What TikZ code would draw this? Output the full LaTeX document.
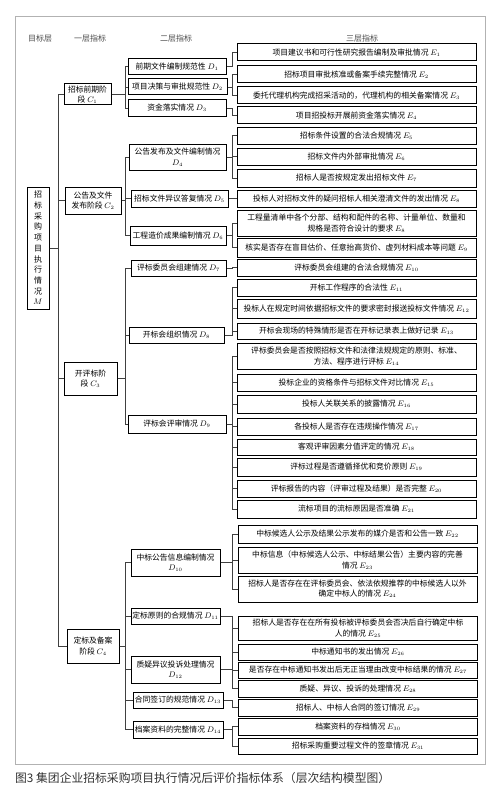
\documentclass[tikz,border=0pt]{standalone}
\usepackage{fontspec}
\setmainfont{Noto Sans CJK SC}
\usetikzlibrary{calc}
\newcommand\bxfont{\fontsize{7.8}{10.4}\selectfont}
\newcommand\hdfont{\fontsize{8}{10}\selectfont}
\newcommand\capfont{\fontsize{11.8}{14}\selectfont}
\begin{document}
\begin{tikzpicture}[x=1pt,y=-1pt,
  bx/.style={draw=black, line width=1pt, inner sep=0pt, align=center, font=\bxfont},
  conn/.style={draw=black!75, line width=0.7pt},
  hd/.style={font=\hdfont, text=black!70, inner sep=0pt}]
\useasboundingbox (0,0) rectangle (500,797);
\draw[black!30, line width=1pt] (15,17) rectangle (485,764);
% headers
\node[hd] (h0) at (40,38) {目标层};
\node[hd] (h1) at (90,38) {一层指标};
\node[hd] (h2) at (176,38) {二层指标};
\node[hd] (h3) at (362,38) {三层指标};
% bus coordinates
\coordinate (bm) at (58,0);
\coordinate (bc) at (125,0);
\coordinate (be) at (232,0);
% M
\node[bx, minimum width=22pt, minimum height=122pt, font=\fontsize{8}{10.7}\selectfont] (m) at (38,248) {招\\标\\采\\购\\项\\目\\执\\行\\情\\况\\$M$};
% C
\node[bx, minimum width=47pt, minimum height=21pt] (c1) at (87.5,94.5) {招标前期阶\\段 $C_{1}$};
\node[bx, minimum width=56pt, minimum height=27pt] (c2) at (93,200.5) {公告及文件\\发布阶段 $C_{2}$};
\node[bx, minimum width=53pt, minimum height=33pt] (c3) at (90.5,378.5) {开评标阶\\段 $C_{3}$};
\node[bx, minimum width=52pt, minimum height=34pt] (c4) at (93,646) {定标及备案\\阶段 $C_{4}$};
% D
\node[bx, minimum width=98pt, minimum height=16pt] (d1) at (177,66.5) {前期文件编制规范性 $D_{1}$};
\node[bx, minimum width=99pt, minimum height=16pt] (d2) at (177.5,87) {项目决策与审批规范性 $D_{2}$};
\node[bx, minimum width=98pt, minimum height=17pt] (d3) at (177,108) {资金落实情况 $D_{3}$};
\node[bx, minimum width=97pt, minimum height=26pt] (d4) at (177.5,157) {公告发布及文件编制情况\\$D_{4}$};
\node[bx, minimum width=97pt, minimum height=17pt] (d5) at (179.5,198.5) {招标文件异议答复情况 $D_{5}$};
\node[bx, minimum width=96pt, minimum height=19pt] (d6) at (178,235.5) {工程造价成果编制情况 $D_{6}$};
\node[bx, minimum width=95pt, minimum height=16pt] (d7) at (178.5,268) {评标委员会组建情况 $D_{7}$};
\node[bx, minimum width=95pt, minimum height=16pt] (d8) at (176.5,335) {开标会组织情况 $D_{8}$};
\node[bx, minimum width=98pt, minimum height=18pt] (d9) at (177,424) {评标会评审情况 $D_{9}$};
\node[bx, minimum width=89pt, minimum height=27pt] (d10) at (175.5,562.5) {中标公告信息编制情况\\$D_{10}$};
\node[bx, minimum width=89pt, minimum height=16pt] (d11) at (175.5,616) {定标原则的合规情况 $D_{11}$};
\node[bx, minimum width=89pt, minimum height=27pt] (d12) at (175.5,669.5) {质疑异议投诉处理情况\\$D_{12}$};
\node[bx, minimum width=90pt, minimum height=16pt] (d13) at (178,700) {合同签订的规范情况 $D_{13}$};
\node[bx, minimum width=90pt, minimum height=17pt] (d14) at (178,729.5) {档案资料的完整情况 $D_{14}$};
% E
\tikzset{eb/.style={bx, minimum width=239pt}}
\node[eb, minimum height=17pt] (e1) at (356.5,52.5) {项目建议书和可行性研究报告编制及审批情况 $E_{1}$};
\node[eb, minimum height=17pt] (e2) at (356.5,74.5) {招标项目审批核准或备案手续完整情况 $E_{2}$};
\node[eb, minimum height=17pt] (e3) at (356.5,95.5) {委托代理机构完成招采活动的，代理机构的相关备案情况 $E_{3}$};
\node[eb, minimum height=17pt] (e4) at (356.5,115.5) {项目招投标开展前资金落实情况 $E_{4}$};
\node[eb, minimum height=17pt] (e5) at (356.5,135.5) {招标条件设置的合法合规情况 $E_{5}$};
\node[eb, minimum height=17pt] (e6) at (356.5,156.5) {招标文件内外部审批情况 $E_{6}$};
\node[eb, minimum height=18pt] (e7) at (356.5,178) {招标人是否按规定发出招标文件 $E_{7}$};
\node[eb, minimum height=17pt] (e8) at (356.5,198.5) {投标人对招标文件的疑问招标人相关澄清文件的发出情况 $E_{8}$};
\node[eb, minimum height=26pt] (e9a) at (356.5,223) {工程量清单中各个分部、结构和配件的名称、计量单位、数量和\\规格是否符合设计的要求 $E_{8}$};
\node[eb, minimum height=19pt] (e9b) at (356.5,247.5) {核实是否存在盲目估价、任意抬高货价、虚列材料成本等问题 $E_{9}$};
\node[eb, minimum height=17pt] (e10) at (356.5,267.5) {评标委员会组建的合法合规情况 $E_{10}$};
\node[eb, minimum height=17pt] (e11) at (356.5,287.5) {开标工作程序的合法性 $E_{11}$};
\node[eb, minimum height=19pt] (e12) at (356.5,308.5) {投标人在规定时间依据招标文件的要求密封报送投标文件情况 $E_{12}$};
\node[eb, minimum height=16pt] (e13) at (356.5,331) {开标会现场的特殊情形是否在开标记录表上做好记录 $E_{13}$};
\node[eb, minimum height=26pt] (e14) at (356.5,356) {评标委员会是否按照招标文件和法律法规规定的原则、标准、\\方法、程序进行评标 $E_{14}$};
\node[eb, minimum height=17pt] (e15) at (356.5,382.5) {投标企业的资格条件与招标文件对比情况 $E_{15}$};
\node[eb, minimum height=18pt] (e16) at (356.5,404) {投标人关联关系的披露情况 $E_{16}$};
\node[eb, minimum height=17pt] (e17) at (356.5,426.5) {各投标人是否存在违规操作情况 $E_{17}$};
\node[eb, minimum height=16pt] (e18) at (356.5,447) {客观评审因素分值评定的情况 $E_{18}$};
\node[eb, minimum height=18pt] (e19) at (356.5,467) {评标过程是否遵循择优和竞价原则 $E_{19}$};
\node[eb, minimum height=17pt] (e20) at (356.5,488.5) {评标报告的内容（评审过程及结果）是否完整 $E_{20}$};
\node[eb, minimum height=18pt] (e21) at (356.5,509) {流标项目的流标原因是否准确 $E_{21}$};
\node[eb, minimum height=18pt] (e22) at (357.5,534) {中标候选人公示及结果公示发布的媒介是否和公告一致 $E_{22}$};
\node[eb, minimum height=26pt] (e23) at (357.5,560) {中标信息（中标候选人公示、中标结果公告）主要内容的完善\\情况 $E_{23}$};
\node[eb, minimum height=26pt] (e24) at (357.5,589) {招标人是否存在在评标委员会、依法依规推荐的中标候选人以外\\确定中标人的情况 $E_{24}$};
\node[eb, minimum height=24pt] (e25) at (358,628) {招标人是否存在在所有投标被评标委员会否决后自行确定中标\\人的情况 $E_{25}$};
\node[eb, minimum height=16pt] (e26) at (358,652) {中标通知书的发出情况 $E_{26}$};
\node[eb, minimum height=16pt] (e27) at (358,670) {是否存在中标通知书发出后无正当理由改变中标结果的情况 $E_{27}$};
\node[eb, minimum height=17pt] (e28) at (358,688.5) {质疑、异议、投诉的处理情况 $E_{28}$};
\node[eb, minimum height=17pt] (e29) at (358,707.5) {招标人、中标人合同的签订情况 $E_{29}$};
\node[eb, minimum height=17pt] (e30) at (358,726.5) {档案资料的存档情况 $E_{30}$};
\node[eb, minimum height=16pt] (e31) at (358,746) {招标采购重要过程文件的签章情况 $E_{31}$};
% M -> C
\foreach \c in {c1,c2,c3,c4}
  \draw[conn] (m.east) -- (m.east -| bm) |- (\c.west);
% C -> D
\foreach \c/\d in {c1/d1,c1/d2,c1/d3,c2/d4,c2/d5,c2/d6,c3/d7,c3/d8,c3/d9,c4/d10,c4/d11,c4/d12,c4/d13,c4/d14}
  \draw[conn] (\c.east) -- (\c.east -| bc) |- (\d.west);
% D -> E
\foreach \d/\e in {d1/e1,d2/e2,d2/e3,d3/e4,d4/e5,d4/e6,d4/e7,d5/e8,d6/e9a,d6/e9b,d7/e10,d8/e11,d8/e12,d8/e13,d9/e14,d9/e15,d9/e16,d9/e17,d9/e18,d9/e19,d9/e20,d9/e21,d10/e22,d10/e23,d10/e24,d11/e25,d11/e26,d11/e27,d12/e28,d13/e29,d14/e30,d14/e31}
  \draw[conn] (\d.east) -- (\d.east -| be) |- (\e.west);
% caption
\node[anchor=west, inner sep=0pt, font=\capfont, text=black!80] (cap) at (15,778) {图3 集团企业招标采购项目执行情况后评价指标体系（层次结构模型图）};
\end{tikzpicture}
\end{document}
